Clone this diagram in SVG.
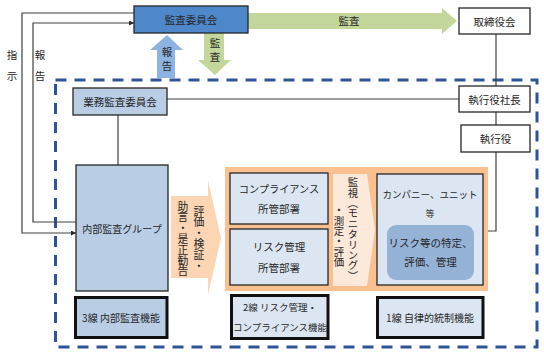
<svg xmlns="http://www.w3.org/2000/svg" width="544" height="355" viewBox="0 0 544 355">
<style>
text{font-family:"Noto Sans CJK JP","Noto Sans",sans-serif;font-size:10.5px;fill:#262626;}
.c{text-anchor:middle;dominant-baseline:central;}
.v{writing-mode:vertical-rl;font-size:10.8px;}
.ln{fill:none;stroke:#404040;stroke-width:1.2;}
.box{stroke:#262626;stroke-width:1.3;}
.thick{stroke:#111;stroke-width:3;}
.lb{fill:#B9CDE5;}
.pb{fill:#DCE6F2;}
</style>
<defs>
<marker id="ah" viewBox="0 0 10 10" refX="10" refY="5" markerWidth="5" markerHeight="5" orient="auto" markerUnits="userSpaceOnUse">
<path d="M0,0 L10,5 L0,10 Z" fill="#262626"/>
</marker>
</defs>

<!-- dashed outer border -->
<rect x="55.5" y="80" width="481.5" height="267" fill="none" stroke="#2F5496" stroke-width="3" stroke-dasharray="11 8"/>

<g id="connectors">
<!-- 指示 -->
<polyline class="ln" points="134,13 22,13 22,233 76,233" marker-end="url(#ah)"/>
<!-- 報告 -->
<polyline class="ln" points="76,222 33,222 33,23 134,23" marker-end="url(#ah)"/>
<!-- 業務監査委員会 - 執行役社長 -->
<line class="ln" x1="167" y1="99" x2="459" y2="99"/>
<line class="ln" x1="118" y1="115" x2="118" y2="165"/>
<line class="ln" x1="496" y1="34" x2="496" y2="86"/>
<line class="ln" x1="496" y1="112" x2="496" y2="125"/>
<polyline class="ln" points="496,152 496,231 483,231"/>
<!-- green 監査 arrow -->
<polygon points="248,13 442,13 442,8 457,21 442,34 442,29 248,29" fill="#C3D69B"/>
<text class="c" x="349" y="20">監査</text>
<!-- blue 報告 up arrow -->
<polygon points="167,35 183,50 175,50 175,78 157,78 157,50 150,50" fill="#8DB3E2"/>
<text class="c" x="167" y="51">報</text>
<text class="c" x="167" y="65">告</text>
<!-- green 監査 down arrow -->
<polygon points="204,33 224,33 224,60 231,60 215,75 198,60 204,60" fill="#C3D69B"/>
<text class="c" x="215" y="42">監</text>
<text class="c" x="215" y="56">査</text>
<!-- side labels -->
<text class="c" x="12" y="54">指</text>
<text class="c" x="12" y="75">示</text>
<text class="c" x="40" y="54">報</text>
<text class="c" x="40" y="75">告</text>
</g>

<g id="kansa-iinkai">
<rect class="box" x="134" y="6" width="114" height="27" fill="#4F87CB"/>
<text class="c" x="191" y="19.5">監査委員会</text>
</g>
<g id="torishimariyakukai">
<rect class="box" x="459" y="8" width="71" height="26" fill="#fff"/>
<text class="c" x="494.5" y="21">取締役会</text>
</g>
<g id="shikkoyaku-shacho">
<rect class="box" x="459" y="86" width="71" height="26" fill="#fff"/>
<text class="c" x="494.5" y="99">執行役社長</text>
</g>
<g id="shikkoyaku">
<rect class="box" x="461" y="125" width="69" height="27" fill="#fff"/>
<text class="c" x="495.5" y="138.5">執行役</text>
</g>
<g id="gyomu-kansa-iinkai">
<rect class="box lb" x="73" y="88" width="94" height="27"/>
<text class="c" x="120" y="101.5">業務監査委員会</text>
</g>
<g id="naibu-kansa-group">
<rect class="box lb" x="76" y="165" width="92" height="126" stroke-width="1"/>
<text class="c" x="122" y="228" style="font-size:10px">内部監査グループ</text>
</g>
<g id="line3">
<rect class="thick lb" x="75.5" y="297.5" width="91.5" height="40"/>
<text class="c" x="121" y="317.5" style="font-size:10px">3線 内部監査機能</text>
</g>

<g id="hyoka-arrow">
<polygon points="171,196 208,196 208,180 221,238 208,295 208,278 171,278" fill="#FCD5B4"/>
<text class="v" x="199" y="206">評価・検証・</text>
<text class="v" x="183" y="201">助言・是正勧告</text>
</g>

<g id="line12-area">
<rect x="225" y="167" width="263" height="124" fill="#FAC090"/>
</g>
<g id="compliance">
<rect class="box pb" x="230" y="173" width="98" height="51"/>
<text class="c" x="279" y="188" style="font-size:10.2px">コンプライアンス</text>
<text class="c" x="279" y="208">所管部署</text>
</g>
<g id="risk">
<rect class="box pb" x="230" y="229" width="98" height="56"/>
<text class="c" x="279" y="246">リスク管理</text>
<text class="c" x="279" y="267">所管部署</text>
</g>
<g id="monitoring-arrow">
<polygon points="333,174 367,174 375,230 367,286 333,286" fill="#FDE9D9"/>
<text class="v" x="353" y="177" style="font-size:10.4px">監視（モニタリング）</text>
<text class="v" x="339" y="205" style="font-size:10.4px">・測定・評価</text>
</g>
<g id="company">
<rect class="box pb" x="377" y="174" width="106" height="111"/>
<text class="c" x="430" y="194" style="font-size:9.5px">カンパニー、ユニット</text>
<text class="c" x="430" y="213" style="font-size:9px">等</text>
<rect x="387" y="225" width="87" height="55" rx="9" fill="#95B3D7"/>
<text class="c" x="430.5" y="242">リスク等の特定、</text>
<text class="c" x="430.5" y="261">評価、管理</text>
</g>
<g id="line2">
<rect class="thick pb" x="231.5" y="295.5" width="96.5" height="43"/>
<text class="c" x="280" y="306.5" style="font-size:9.5px">2線 リスク管理・</text>
<text class="c" x="280" y="327" style="font-size:9.5px">コンプライアンス機能</text>
</g>
<g id="line1">
<rect class="thick pb" x="377.5" y="297.5" width="105.5" height="40"/>
<text class="c" x="430" y="317.5" style="font-size:10px">1線 自律的統制機能</text>
</g>
</svg>
